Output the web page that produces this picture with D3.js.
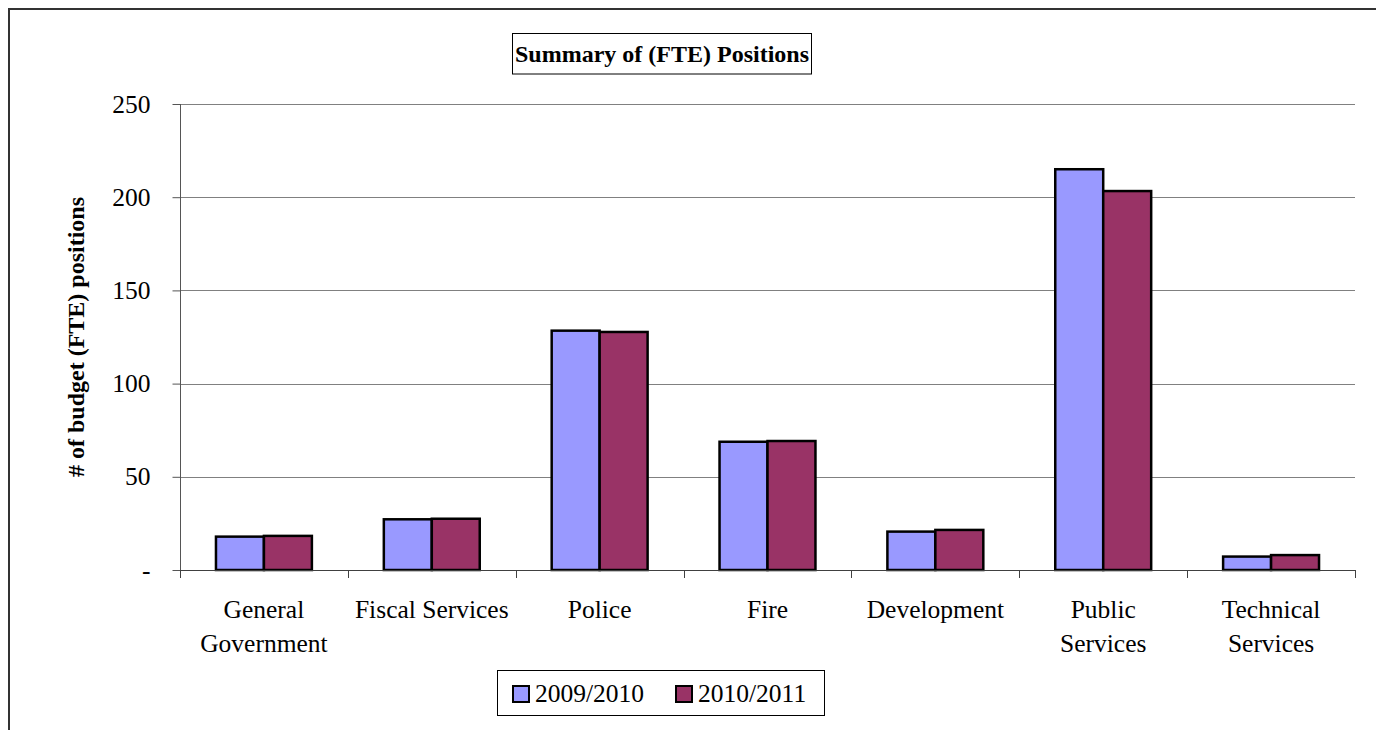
<!DOCTYPE html>
<html>
<head>
<meta charset="utf-8">
<script src="https://cdn.jsdelivr.net/npm/d3@7/dist/d3.min.js"></script>
<style>
  html, body { margin: 0; padding: 0; background: #fff; }
  svg { display: block; }
</style>
</head>
<body>
<svg id="chart" width="1376" height="730"></svg>
<script>
// Department groups (line breaks mark where the axis label wraps)
const categories = [
  "General\nGovernment",
  "Fiscal Services",
  "Police",
  "Fire",
  "Development",
  "Public\nServices",
  "Technical\nServices"
];
const seriesNames = ["2009/2010", "2010/2011"];
const fte2009 = [17.9, 27.2, 128.4, 68.8, 20.6, 215.0, 7.2];
const fte2010 = [18.3, 27.5, 127.7, 69.2, 21.5, 203.3, 8.0];
const yTicks = [0, 50, 100, 150, 200, 250];
const colors = ["#9999FF", "#993366"];

const SERIF = "'Liberation Serif', 'Times New Roman', Times, serif";

const svg = d3.select("#chart")
  .attr("font-family", SERIF)
  .style("font-family", SERIF);

// Outer chart frame (left and top edges)
svg.append("path")
  .attr("d", "M9,730 V9 H1376")
  .attr("fill", "none")
  .attr("stroke", "#333")
  .attr("stroke-width", 2);

const plot = { left: 180, right: 1355, top: 104, bottom: 570 };

const gapRatio = 1.5 / 3.5;
const x0 = d3.scaleBand()
  .domain(categories)
  .range([plot.left, plot.right])
  .paddingInner(gapRatio)
  .paddingOuter(gapRatio / 2);
const x1 = d3.scaleBand()
  .domain(seriesNames)
  .range([0, x0.bandwidth()]);
const y = d3.scaleLinear().domain([0, 250]).range([plot.bottom, plot.top]);

// Horizontal gridlines
svg.append("g")
  .selectAll("line")
  .data(yTicks.filter(d => d > 0))
  .join("line")
  .attr("x1", plot.left).attr("x2", plot.right)
  .attr("y1", d => Math.round(y(d)) + 0.5)
  .attr("y2", d => Math.round(y(d)) + 0.5)
  .attr("stroke", "#808080")
  .attr("stroke-width", 1);

// Y axis
const yAxis = svg.append("g")
  .attr("transform", `translate(${plot.left + 0.5},0)`)
  .call(d3.axisLeft(y)
    .tickValues(yTicks)
    .tickSize(8)
    .tickPadding(22)
    .tickFormat(d => d === 0 ? "-" : d));
yAxis.attr("font-family", SERIF).attr("font-size", null);
yAxis.select(".domain").attr("stroke", "#555").attr("d", `M0,${plot.top}V${plot.bottom}`);
yAxis.selectAll(".tick line").attr("stroke", "#555");
yAxis.selectAll(".tick text")
  .style("font-family", SERIF)
  .style("font-size", "25.5px")
  .attr("fill", "#000");

// Y axis title
svg.append("text")
  .attr("transform", `translate(84,${(plot.top + plot.bottom) / 2}) rotate(-90)`)
  .attr("text-anchor", "middle")
  .style("font-family", SERIF)
  .style("font-size", "24px")
  .style("font-weight", "bold")
  .text("# of budget (FTE) positions");

// Bars
const rows = categories.map((c, i) => ({ cat: c, values: [fte2009[i], fte2010[i]] }));
svg.append("g")
  .selectAll("g")
  .data(rows)
  .join("g")
  .attr("transform", d => `translate(${x0(d.cat)},0)`)
  .selectAll("rect")
  .data(d => d.values.map((v, k) => ({ key: seriesNames[k], v, k })))
  .join("rect")
  .attr("x", d => x1(d.key))
  .attr("y", d => y(d.v))
  .attr("width", x1.bandwidth())
  .attr("height", d => y(0) - y(d.v))
  .attr("fill", d => colors[d.k])
  .attr("stroke", "#000")
  .attr("stroke-width", 2.5);

// X axis line and category boundary ticks
svg.append("line")
  .attr("x1", plot.left).attr("x2", plot.right)
  .attr("y1", plot.bottom + 0.5).attr("y2", plot.bottom + 0.5)
  .attr("stroke", "#404040");
const bounds = d3.range(categories.length + 1).map(i => x0.range()[0] + i * x0.step());
svg.append("g")
  .selectAll("line")
  .data(bounds)
  .join("line")
  .attr("x1", d => Math.round(d) + 0.5).attr("x2", d => Math.round(d) + 0.5)
  .attr("y1", plot.bottom).attr("y2", plot.bottom + 8)
  .attr("stroke", "#404040");

// Category labels
svg.append("g")
  .selectAll("text")
  .data(categories)
  .join("text")
  .attr("text-anchor", "middle")
  .style("font-family", SERIF)
  .style("font-size", "25.5px")
  .attr("x", d => x0(d) + x0.bandwidth() / 2)
  .attr("y", 618)
  .each(function (d) {
    const lines = d.split("\n");
    d3.select(this).selectAll("tspan")
      .data(lines)
      .join("tspan")
      .attr("x", x0(d) + x0.bandwidth() / 2)
      .attr("dy", (l, i) => i === 0 ? 0 : 34)
      .text(l => l);
  });

// Title box
svg.append("rect")
  .attr("x", 512.5).attr("y", 33.5)
  .attr("width", 299).attr("height", 40.5)
  .attr("fill", "#fff").attr("stroke", "#000").attr("stroke-width", 1);
svg.append("text")
  .attr("x", 662).attr("y", 62)
  .attr("text-anchor", "middle")
  .style("font-family", SERIF)
  .style("font-size", "24px")
  .style("font-weight", "bold")
  .text("Summary of (FTE) Positions");

// Legend
const legend = svg.append("g");
legend.append("rect")
  .attr("x", 497.5).attr("y", 670.5)
  .attr("width", 327).attr("height", 45)
  .attr("fill", "#fff").attr("stroke", "#000").attr("stroke-width", 1);
const legendX = [513, 676];
const items = legend.selectAll("g.item")
  .data(seriesNames)
  .join("g")
  .attr("class", "item")
  .attr("transform", (d, i) => `translate(${legendX[i]},686)`);
items.append("rect")
  .attr("width", 16).attr("height", 16)
  .attr("fill", (d, i) => colors[i])
  .attr("stroke", "#000").attr("stroke-width", 2);
items.append("text")
  .attr("x", 22).attr("y", 16)
  .style("font-family", SERIF)
  .style("font-size", "25.5px")
  .text(d => d);
</script>
</body>
</html>
